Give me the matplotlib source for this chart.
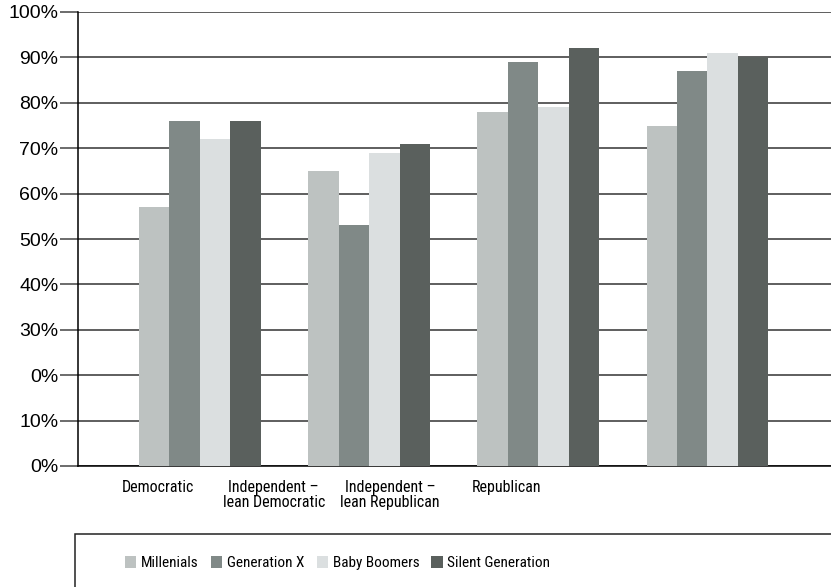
import numpy as np
import matplotlib
matplotlib.use("Agg")
import matplotlib.pyplot as plt
from matplotlib.patches import Rectangle, Patch
from matplotlib import font_manager

categories = ["Democratic", "Independent \u2013\nlean Democratic",
              "Independent \u2013\nlean Republican", "Republican"]
series = ["Millenials", "Generation X", "Baby Boomers", "Silent Generation"]
millenials = [57, 65, 78, 75]
gen_x = [76, 53, 89, 87]
boomers = [72, 69, 79, 91]
silent = [76, 71, 92, 90]
ytick_labels = ["0%", "10%", "0%", "30%", "40%", "50%",
                "60%", "70%", "80%", "90%", "100%"]

colors = ["#bdc2c1", "#808987", "#dbdfe0", "#5a605d"]

# the source sets labels in a condensed sans; pick the best one we have
prefs = ["liberation sans narrow", "roboto condensed", "dejavu sans",
         "noto sans", "open sans"]
cond = None
best = len(prefs)
for f in font_manager.fontManager.ttflist:
    nm = f.name.lower()
    if "mono" in nm or f.style != "normal" or f.weight not in (400, "normal", "regular"):
        continue
    is_cond = ("narrow" in nm or "condensed" in nm
               or "condensed" in str(f.stretch).lower()
               or "condensed" in f.fname.lower())
    if not is_cond:
        continue
    for rank, p in enumerate(prefs):
        if nm.startswith(p) and rank < best:
            best, cond = rank, f
if cond is not None:
    lab_font = {"fname": cond.fname}
    lab_size = 11.5
else:
    lab_font = {"family": "Liberation Sans"}
    lab_size = 9.5

W, H = 831, 587
fig = plt.figure(figsize=(W / 100, H / 100), dpi=100)
ax = fig.add_axes([78 / W, 1 - 466 / H, 1 - 78 / W, (466 - 12) / H])

x = np.arange(len(categories))
bw = 0.18
for i, (vals, name) in enumerate(zip([millenials, gen_x, boomers, silent], series)):
    ax.bar(x + (i - 1.5) * bw, vals, width=bw, color=colors[i], label=name,
           zorder=3, linewidth=0)

ax.set_xlim(-0.72, 3.73)
ax.set_ylim(0, 100)
ax.set_yticks(np.arange(0, 101, 10))
ax.set_yticklabels(ytick_labels, fontsize=14, family="Liberation Sans")
ax.yaxis.grid(True, color="#333333", linewidth=1.1, zorder=0)
ax.tick_params(axis="y", length=13, width=1.1, color="#444444", pad=1)

# category labels sit left of the bar groups in the source
ax.set_xticks(-0.25 + 0.687 * x)
ax.set_xticklabels(categories, linespacing=1.05,
                   fontproperties=font_manager.FontProperties(size=lab_size, **lab_font))
ax.tick_params(axis="x", length=0, pad=10)
for s in ["top", "right"]:
    ax.spines[s].set_visible(False)
ax.spines["left"].set_linewidth(1.1)
ax.spines["bottom"].set_linewidth(1.1)

# legend frame running off the figure edge
fig.patches.append(Rectangle((75 / W, -0.05), 1, (587 - 534) / H + 0.05,
                             transform=fig.transFigure, fill=False,
                             edgecolor="#222222", linewidth=1.1))
handles = [Patch(facecolor=c, edgecolor="none") for c in colors]
fig.legend(handles, series, loc="center left",
           bbox_to_anchor=(125 / W, 1 - 563 / H), ncol=4, frameon=False,
           borderpad=0, borderaxespad=0,
           handlelength=0.75, handleheight=0.9, handletextpad=0.3,
           columnspacing=0.8,
           prop=font_manager.FontProperties(size=11, **lab_font))

fig.savefig("out.png", dpi=100)
